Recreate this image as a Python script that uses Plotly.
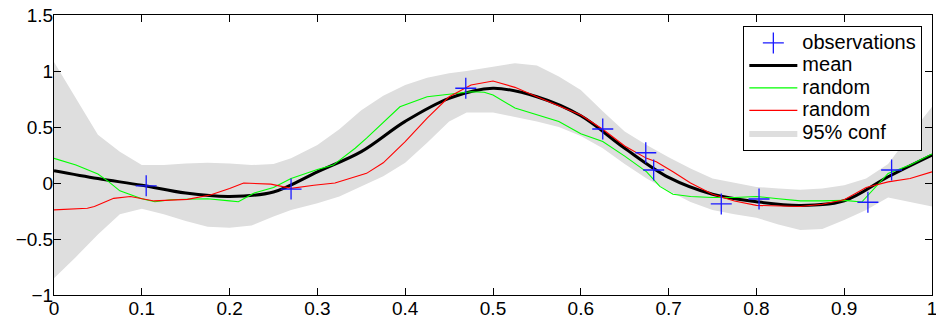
import plotly.graph_objects as go

# ---------------- data ----------------
obs_x = [0.105, 0.270, 0.469, 0.625, 0.674, 0.683, 0.760, 0.803, 0.927, 0.954]
obs_y = [-0.025, -0.054, 0.846, 0.482, 0.270, 0.116, -0.187, -0.143, -0.172, 0.116]

mean_x = [0.0, 0.05, 0.1, 0.15, 0.2, 0.25, 0.3, 0.35, 0.4, 0.45, 0.5,
          0.55, 0.6, 0.65, 0.7, 0.75, 0.8, 0.85, 0.9, 0.95, 1.0]
mean_y = [0.11, 0.04, -0.02, -0.09, -0.12, -0.08, 0.10, 0.28, 0.55, 0.756, 0.846,
          0.77, 0.60, 0.31, 0.05, -0.10, -0.167, -0.20, -0.158, 0.056, 0.25]

green_x = [0.0, 0.025, 0.05, 0.0625, 0.075, 0.1, 0.115, 0.133, 0.15, 0.175, 0.2, 0.21,
           0.228, 0.25, 0.27, 0.3, 0.318, 0.343, 0.356, 0.375, 0.394, 0.425, 0.45, 0.475,
           0.49, 0.5, 0.525, 0.55, 0.575, 0.6, 0.625, 0.65, 0.675, 0.69, 0.705, 0.725,
           0.75, 0.775, 0.8, 0.825, 0.85, 0.875, 0.9, 0.92, 0.937, 0.95, 0.975, 1.0]
green_y = [0.22, 0.16, 0.08, 0.01, -0.07, -0.14, -0.167, -0.15, -0.145, -0.14, -0.16, -0.167,
           -0.09, -0.04, 0.04, 0.12, 0.16, 0.31, 0.40, 0.54, 0.68, 0.77, 0.79, 0.815,
           0.81, 0.786, 0.67, 0.607, 0.55, 0.44, 0.37, 0.24, 0.10, -0.03, -0.10, -0.12,
           -0.13, -0.13, -0.12, -0.14, -0.16, -0.16, -0.155, -0.17, -0.03, 0.086, 0.16, 0.26]

red_x = [0.0, 0.038, 0.046, 0.068, 0.087, 0.114, 0.152, 0.178, 0.2, 0.216, 0.247, 0.27,
         0.296, 0.32, 0.356, 0.375, 0.4, 0.425, 0.45, 0.475, 0.5, 0.525, 0.55, 0.575,
         0.6, 0.625, 0.65, 0.675, 0.686, 0.705, 0.725, 0.75, 0.775, 0.8, 0.85, 0.875,
         0.9, 0.925, 0.95, 0.975, 1.0]
red_y = [-0.24, -0.226, -0.21, -0.137, -0.12, -0.16, -0.146, -0.107, -0.05, 0.0, -0.01, -0.048,
         -0.02, 0.0, 0.086, 0.18, 0.37, 0.58, 0.77, 0.875, 0.91, 0.854, 0.77, 0.69,
         0.607, 0.48, 0.33, 0.22, 0.19, 0.10, 0.0, -0.10, -0.16, -0.20, -0.21, -0.19,
         -0.15, -0.04, 0.01, 0.04, 0.10]

band_x = [0.0, 0.025, 0.05, 0.075, 0.1, 0.125, 0.15, 0.175, 0.2, 0.225, 0.25, 0.27, 0.3,
          0.325, 0.35, 0.375, 0.4, 0.425, 0.45, 0.47, 0.5, 0.525, 0.55, 0.575, 0.6, 0.625,
          0.65, 0.675, 0.7, 0.725, 0.75, 0.775, 0.8, 0.825, 0.85, 0.875, 0.9, 0.925, 0.95,
          0.975, 1.0]
band_hi = [1.08, 0.76, 0.43, 0.28, 0.16, 0.16, 0.175, 0.18, 0.175, 0.16, 0.17, 0.22, 0.34,
           0.48, 0.65, 0.78, 0.875, 0.94, 0.98, 1.0, 1.04, 1.07, 1.05, 0.95, 0.83, 0.64,
           0.46, 0.34, 0.23, 0.13, 0.04, 0.0, -0.035, -0.05, -0.06, -0.05, -0.02, 0.04, 0.17,
           0.43, 0.68]
band_lo = [-0.85, -0.66, -0.46, -0.28, -0.23, -0.28, -0.34, -0.39, -0.40, -0.38, -0.30, -0.24, -0.18,
           -0.12, -0.03, 0.06, 0.18, 0.36, 0.55, 0.63, 0.63, 0.59, 0.55, 0.50, 0.42, 0.31,
           0.17, 0.04, -0.07, -0.17, -0.24, -0.28, -0.31, -0.37, -0.42, -0.41, -0.33, -0.24, -0.13,
           -0.17, -0.21]

x_ticks = [0, 0.1, 0.2, 0.3, 0.4, 0.5, 0.6, 0.7, 0.8, 0.9, 1]
y_ticks = [-1, -0.5, 0, 0.5, 1, 1.5]

names = ["observations", "mean", "random", "random", "95% conf"]

# ---------------- figure ----------------
FONT = "Liberation Sans, Arial, Helvetica, sans-serif"


def lab(t):
    return '<span style="font-size:20px">' + t + '</span>'


fig = go.Figure()

fig.add_trace(go.Scatter(
    x=band_x + band_x[::-1], y=band_hi + band_lo[::-1],
    mode="lines", fill="toself", fillcolor="#dedede",
    line=dict(width=0, color="#dedede"),
    name=lab(names[4]), legendrank=5, hoverinfo="skip"))

fig.add_trace(go.Scatter(
    x=mean_x, y=mean_y, mode="lines", line=dict(color="black", width=3, shape="spline"),
    name=lab(names[1]), legendrank=2))

fig.add_trace(go.Scatter(
    x=green_x, y=green_y, mode="lines", line=dict(color="#00ff00", width=1.1),
    name=lab(names[2]), legendrank=3))

fig.add_trace(go.Scatter(
    x=red_x, y=red_y, mode="lines", line=dict(color="#ff0000", width=1.1),
    name=lab(names[3]), legendrank=4))

fig.add_trace(go.Scatter(
    x=obs_x, y=obs_y, mode="markers",
    marker=dict(symbol="cross-thin", size=15, line=dict(width=1.3, color="#1a1aff")),
    name=lab(names[0]), legendrank=1))

axis_common = dict(
    showline=True, linecolor="black", linewidth=1, mirror="ticks",
    ticks="inside", ticklen=7, tickcolor="black", tickwidth=1,
    showgrid=False, zeroline=False, automargin=False, ticklabeloverflow="allow",
    tickfont=dict(family=FONT, size=19, color="black"),
)

fig.update_layout(
    width=936, height=321,
    margin=dict(l=54, r=4, t=15, b=26),
    paper_bgcolor="white", plot_bgcolor="white",
    font=dict(family=FONT, color="black"),
    xaxis=dict(range=[0, 1], tickvals=x_ticks, ticklabelstandoff=-4, **axis_common),
    yaxis=dict(range=[-1, 1.5], tickvals=y_ticks, ticklabelstandoff=-4, **axis_common),
    legend=dict(
        x=0.989, xanchor="right", y=0.962, yanchor="top",
        bgcolor="white", bordercolor="black", borderwidth=1,
        font=dict(family=FONT, size=15, color="black"),
        itemwidth=48, tracegroupgap=0,
    ),
    showlegend=True,
)

# the page's default 8 px body margin would push the figure off its place
fig.write_html(
    "out.html",
    config={"displayModeBar": False},
    post_script="document.body.style.margin='0';document.body.style.overflow='hidden';",
)
